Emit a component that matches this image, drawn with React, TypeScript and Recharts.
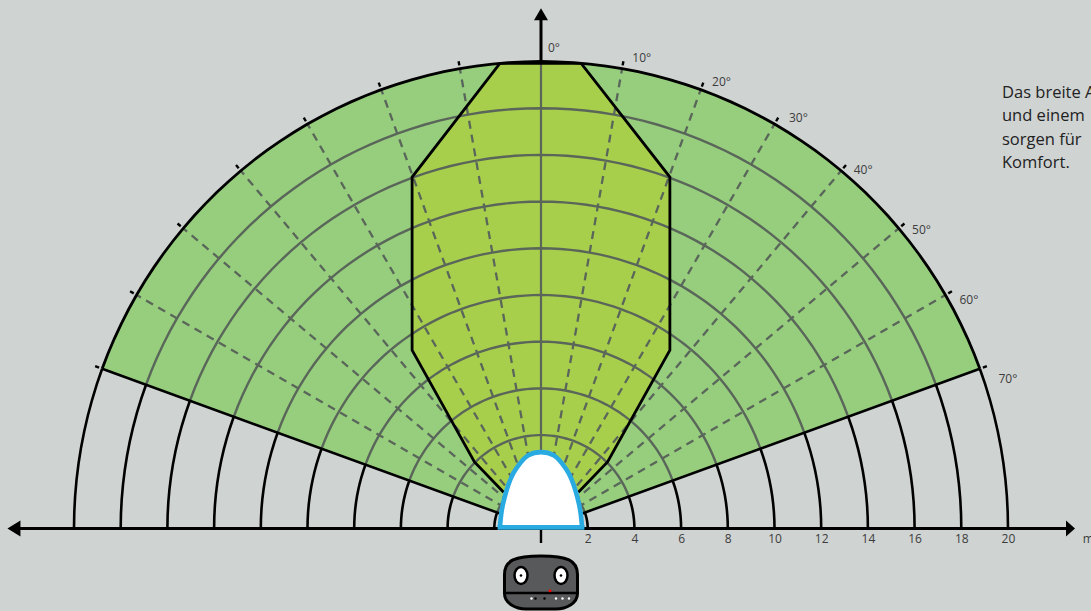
import { Area, ComposedChart, Line, Scatter, XAxis, YAxis } from 'recharts';

const WIDTH = 1091;
const HEIGHT = 611;
const FONT = '"Open Sans", "Noto Sans", sans-serif';

// metres on the floor, degrees off the sensor's axis
const distanceTicks = [2, 4, 6, 8, 10, 12, 14, 16, 18, 20];
const innerRings = [2, 4, 6, 8, 10, 12, 14, 16, 18];
const outerRing = 20;
const fanLimit = 70;
const dashedAngles = [-60, -50, -40, -30, -20, -10, 10, 20, 30, 40, 50, 60];
const tickAngles = [-70, -60, -50, -40, -30, -20, -10, 10, 20, 30, 40, 50, 60, 70];
const labelAngles = [0, 10, 20, 30, 40, 50, 60, 70];
const introLines = ['Das breite A', 'und einem', 'sorgen für', 'Komfort.'];

// high-sensitivity zone
const zoneX = [-5.52, -2.85, -1.76, -1.6, 1.6, 1.72, 2.85, 5.52];
const zoneLow = [7.64, 2.85, 1.71, 1.55, 1.55, 1.67, 2.85, 7.64];
const zoneHigh = [15.05, 18.51, 19.92, 19.93, 19.93, 19.92, 18.5, 15.05];

// dead spot right in front of the sensor
const domeX = [-1.76, -1.69, -1.57, -1.4, -1.19, -0.9, -0.54, 0, 0.54, 0.9, 1.19, 1.4, 1.57, 1.69, 1.76];
const domeY = [0.05, 0.71, 1.29, 1.86, 2.36, 2.79, 3.14, 3.27, 3.14, 2.79, 2.36, 1.86, 1.29, 0.71, 0.05];

const rad = (deg: number) => (deg * Math.PI) / 180;
const polar = (r: number, deg: number) => ({ x: r * Math.sin(rad(deg)), y: r * Math.cos(rad(deg)) });

function arc(r: number, from: number, to: number) {
  const pts = [];
  for (let a = from; a <= to; a += 2) pts.push(polar(r, a));
  return pts;
}

const fanData = arc(outerRing, -fanLimit, fanLimit).map((p) => ({
  x: p.x,
  range: [Math.abs(p.x) / Math.tan(rad(fanLimit)), p.y],
}));
const zoneData = zoneX.map((x, i) => ({ x, range: [zoneLow[i], zoneHigh[i]] }));
const zoneOutline = [
  { x: zoneX[3], y: zoneLow[3] },
  { x: zoneX[1], y: zoneLow[1] },
  { x: zoneX[0], y: zoneLow[0] },
  { x: zoneX[0], y: zoneHigh[0] },
  { x: zoneX[2], y: zoneHigh[2] },
  { x: zoneX[5], y: zoneHigh[5] },
  { x: zoneX[7], y: zoneHigh[7] },
  { x: zoneX[7], y: zoneLow[7] },
  { x: zoneX[6], y: zoneLow[6] },
  { x: zoneX[4], y: zoneLow[4] },
];
const domeData = domeX.map((x, i) => ({ x, y: domeY[i] }));
const labelData = labelAngles.map((a) => ({ ...polar(20.3, a), label: `${a}°`, angle: a }));

// text offset from the tick end, px
const labelNudge: Record<number, number[]> = {
  0: [7, -6],
  10: [9, -3],
  20: [9, 0],
  30: [11, 1],
  40: [8, 5],
  50: [8, 7],
  60: [8, 9],
  70: [12, 13],
};

function AngleLabel(props: any) {
  const { cx, cy, payload } = props;
  const [dx, dy] = labelNudge[payload.angle];
  return (
    <text x={cx + dx} y={cy + dy} fontSize={12} fontFamily={FONT} fill="#3c3c3c" dominantBaseline="middle">
      {payload.label}
    </text>
  );
}

function UnitLabel(props: any) {
  return (
    <text x={props.cx} y={props.cy} fontSize={12} fontFamily={FONT} fill="#3c3c3c" dominantBaseline="middle">
      m
    </text>
  );
}

// the axis sits on the floor line, not at the bottom of the plot
function DistanceTick(props: any) {
  return (
    <text x={props.x + 0.5} y={539.5} textAnchor="middle" fontSize={12} fontFamily={FONT} fill="#3c3c3c" dominantBaseline="middle">
      {props.payload.value}
    </text>
  );
}

function Arrow(props: any) {
  const { cx, cy, payload } = props;
  const pts: Record<string, string> = {
    up: `${cx},${cy} ${cx - 7},${cy + 12} ${cx + 7},${cy + 12}`,
    left: `${cx},${cy} ${cx + 13},${cy - 8} ${cx + 13},${cy + 8}`,
    right: `${cx},${cy} ${cx - 9},${cy - 8} ${cx - 9},${cy + 8}`,
  };
  return <polygon points={pts[payload.dir]} fill="#000" />;
}

function Sensor(props: any) {
  const { cx, cy } = props;
  const dot = (x: number, fill: string) => <circle cx={cx + x} cy={cy + 16} r={1.2} fill={fill} />;
  return (
    <g>
      <path
        d={`M${cx - 36.5},${cy - 8} C${cx - 36.5},${cy - 22} ${cx - 26},${cy - 26.5} ${cx},${cy - 26.5} C${cx + 26},${cy - 26.5} ${cx + 36.5},${cy - 22} ${cx + 36.5},${cy - 8} L${cx + 36.5},${cy + 11} C${cx + 36.5},${cy + 21} ${cx + 25},${cy + 26.5} ${cx + 15},${cy + 26.5} L${cx - 15},${cy + 26.5} C${cx - 25},${cy + 26.5} ${cx - 36.5},${cy + 21} ${cx - 36.5},${cy + 11} Z`}
        fill="#58595b"
        stroke="#000"
        strokeWidth={3}
      />
      <line x1={cx - 36.5} x2={cx + 36.5} y1={cy + 10.5} y2={cy + 10.5} stroke="#000" strokeWidth={2.4} />
      <ellipse cx={cx - 20} cy={cy - 7} rx={6.5} ry={8.5} fill="#fff" stroke="#000" strokeWidth={2.5} />
      <ellipse cx={cx + 20} cy={cy - 7} rx={6.5} ry={8.5} fill="#fff" stroke="#000" strokeWidth={2.5} />
      <circle cx={cx - 20} cy={cy - 7} r={1.3} fill="#000" />
      <circle cx={cx + 20} cy={cy - 7} r={1.3} fill="#000" />
      <circle cx={cx + 9} cy={cy + 8.5} r={1.4} fill="#ff0000" />
      {dot(-9.5, '#fff')}
      {dot(-5.5, '#000')}
      {dot(3.5, '#000')}
      {dot(15, '#fff')}
      {dot(21.5, '#fff')}
      {dot(28, '#fff')}
    </g>
  );
}

export default function App() {
  return (
    <div style={{ position: 'absolute', left: 0, top: 0, width: WIDTH, height: HEIGHT, overflow: 'hidden', background: '#cfd3d2' }}>
      <ComposedChart width={WIDTH} height={HEIGHT} margin={{ top: 0, right: 0, bottom: 0, left: 0 }}>
        <XAxis
          type="number"
          dataKey="x"
          domain={[-23.169, 23.555]}
          ticks={distanceTicks}
          height={1}
          axisLine={false}
          tickLine={false}
          interval={0}
          tick={DistanceTick}
        />
        <YAxis hide type="number" dataKey="y" width={0} domain={[-3.49, 22.634]} />

        <Area data={fanData} dataKey="range" type="linear" fill="#96ce7d" fillOpacity={1} stroke="none" dot={false} isAnimationActive={false} zIndex={1} />
        <Area data={zoneData} dataKey="range" type="linear" fill="#a8cf4c" fillOpacity={1} stroke="none" dot={false} isAnimationActive={false} zIndex={2} />

        {innerRings.map((r) => (
          <Line key={`ring${r}`} data={arc(r, -fanLimit, fanLimit)} dataKey="y" type="linear" stroke="#5a665a" strokeWidth={2.4} dot={false} isAnimationActive={false} zIndex={3} />
        ))}
        {dashedAngles.map((a) => (
          <Line key={`ray${a}`} data={[polar(0, a), polar(outerRing, a)]} dataKey="y" type="linear" stroke="#5a665a" strokeWidth={2.3} strokeDasharray="8 6" dot={false} isAnimationActive={false} zIndex={3} />
        ))}
        <Line data={[polar(0, 0), polar(outerRing, 0)]} dataKey="y" type="linear" stroke="#5a665a" strokeWidth={2.2} dot={false} isAnimationActive={false} zIndex={3} />

        {[...innerRings, outerRing].map((r) => (
          <Line key={`left${r}`} data={arc(r, -90, -fanLimit)} dataKey="y" type="linear" stroke="#000" strokeWidth={2.6} dot={false} isAnimationActive={false} zIndex={4} />
        ))}
        {[...innerRings, outerRing].map((r) => (
          <Line key={`right${r}`} data={arc(r, fanLimit, 90)} dataKey="y" type="linear" stroke="#000" strokeWidth={2.6} dot={false} isAnimationActive={false} zIndex={4} />
        ))}
        <Line data={arc(outerRing, -fanLimit, fanLimit)} dataKey="y" type="linear" stroke="#000" strokeWidth={2.8} dot={false} isAnimationActive={false} zIndex={4} />
        <Line data={[polar(outerRing, -fanLimit), polar(0, 0), polar(outerRing, fanLimit)]} dataKey="y" type="linear" stroke="#000" strokeWidth={2.6} dot={false} isAnimationActive={false} zIndex={4} />
        <Line data={zoneOutline} dataKey="y" type="linear" stroke="#000" strokeWidth={2.8} dot={false} isAnimationActive={false} zIndex={4} />
        {tickAngles.map((a) => (
          <Line key={`tick${a}`} data={[polar(20.14, a), polar(20.32, a)]} dataKey="y" type="linear" stroke="#000" strokeWidth={2.4} dot={false} isAnimationActive={false} zIndex={4} />
        ))}

        {/* axes */}
        <Line data={[{ x: -22.6, y: 0 }, { x: 22.6, y: 0 }]} dataKey="y" type="linear" stroke="#000" strokeWidth={3} dot={false} isAnimationActive={false} zIndex={5} />
        <Line data={[{ x: 0, y: 20 }, { x: 0, y: 22.1 }]} dataKey="y" type="linear" stroke="#000" strokeWidth={3} dot={false} isAnimationActive={false} zIndex={5} />
        <Line data={[{ x: 0, y: 0 }, { x: 0, y: -0.62 }]} dataKey="y" type="linear" stroke="#000" strokeWidth={2.4} dot={false} isAnimationActive={false} zIndex={5} />
        <Scatter
          data={[{ x: 0, y: 22.28, dir: 'up' }, { x: -22.85, y: 0, dir: 'left' }, { x: 22.87, y: 0, dir: 'right' }]}
          shape={Arrow}
          isAnimationActive={false}
          zIndex={5}
        />

        <Area data={domeData} dataKey="y" type="natural" baseValue={0} fill="#ffffff" fillOpacity={1} stroke="none" dot={false} isAnimationActive={false} zIndex={6} />
        <Line data={domeData} dataKey="y" type="natural" stroke="#29abe2" strokeWidth={4.6} dot={false} isAnimationActive={false} zIndex={7} />
        <Line data={[domeData[0], domeData[domeData.length - 1]]} dataKey="y" type="linear" stroke="#29abe2" strokeWidth={4.6} strokeLinecap="square" dot={false} isAnimationActive={false} zIndex={7} />

        <Scatter data={labelData} shape={AngleLabel} isAnimationActive={false} zIndex={8} />
        <Scatter data={[{ x: 23.2, y: -0.5 }]} shape={UnitLabel} isAnimationActive={false} zIndex={8} />
        <Scatter data={[{ x: 0, y: -2.31 }]} shape={Sensor} isAnimationActive={false} zIndex={8} />
      </ComposedChart>
      <div
        style={{
          position: 'absolute',
          left: 1002,
          top: 80,
          fontFamily: FONT,
          fontSize: 16.5,
          lineHeight: '23.3px',
          color: '#222',
          whiteSpace: 'nowrap',
        }}
      >
        {introLines.map((t) => (
          <div key={t}>{t}</div>
        ))}
      </div>
    </div>
  );
}
